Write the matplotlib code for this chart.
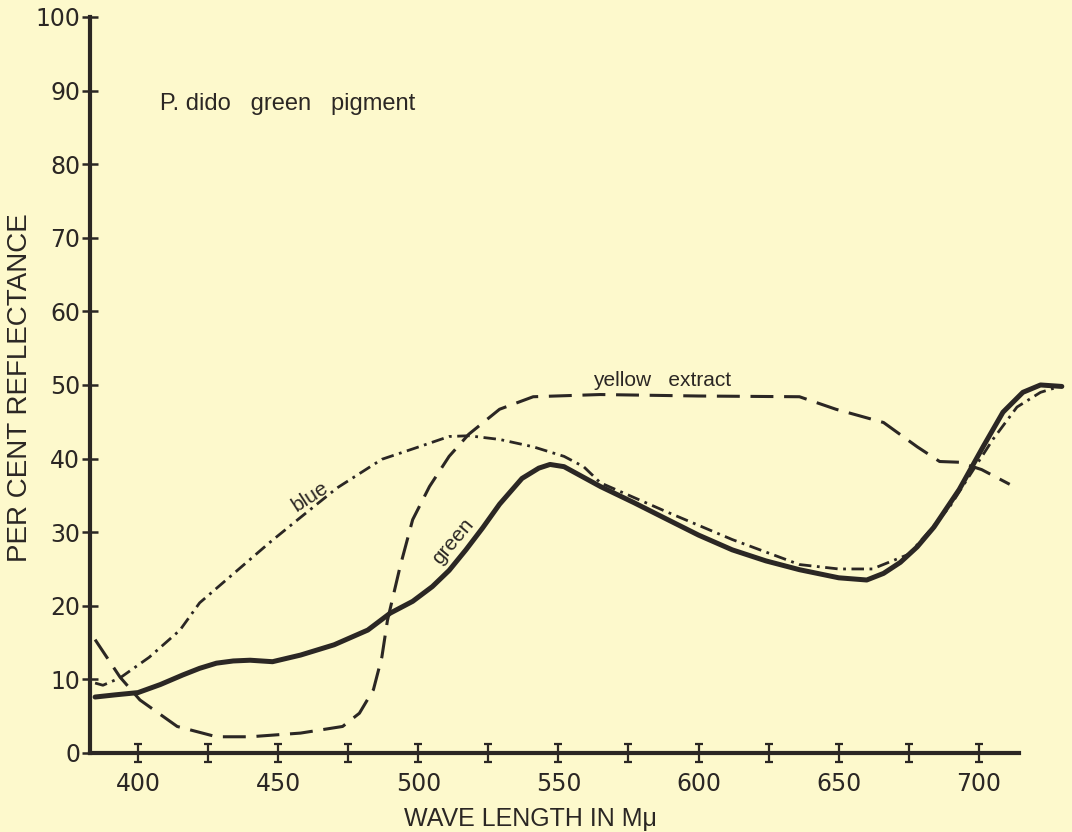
import matplotlib as mpl
mpl.use("Agg")
import matplotlib.pyplot as plt

# wave length (m-mu) and per cent reflectance
green_wl = [384.7, 392, 400, 408, 416, 422, 428, 434, 440, 448, 458, 470, 482, 490, 498, 505,
            511, 517, 523, 529, 537, 543, 547, 552, 565, 577, 589, 600, 612, 624, 636, 650,
            660, 666, 672, 678, 684, 693, 701.5, 708.6, 715.7, 722, 729.6]
green_val = [7.6, 7.9, 8.2, 9.3, 10.6, 11.5, 12.2, 12.5, 12.6, 12.4, 13.3, 14.7, 16.7, 19.0,
             20.6, 22.6, 24.8, 27.6, 30.6, 33.8, 37.3, 38.7, 39.2, 38.9, 36.2, 34.0, 31.7,
             29.6, 27.6, 26.1, 24.9, 23.8, 23.5, 24.4, 25.9, 28.0, 30.7, 35.8, 41.6, 46.3,
             49.0, 50.0, 49.8]

blue_wl = [384.7, 387.5, 393.6, 404, 415, 422, 440, 447, 457, 471, 487, 499.5, 511, 518,
           529, 541, 552, 559, 565, 589, 612, 636, 650, 662, 675, 682, 689.7, 695.7, 705,
           713.6, 722, 728]
blue_val = [9.5, 9.2, 10.2, 13.0, 16.7, 20.4, 26.3, 28.6, 31.7, 36.0, 39.9, 41.5, 43.0, 43.1,
            42.6, 41.6, 40.3, 38.9, 36.7, 32.7, 29.0, 25.6, 25.0, 25.0, 27.0, 30.0, 33.5, 37.1, 42.6,
            47.0, 49.0, 49.7]

yellow_wl = [384.7, 393.6, 400.7, 414, 428, 440, 458, 473, 479, 484, 487, 489, 493.5, 498,
             504, 511, 518, 529, 541, 565, 600, 636, 649, 666, 678, 686, 693, 701, 711]
yellow_val = [15.4, 10.3, 7.2, 3.6, 2.2, 2.2, 2.7, 3.6, 5.4, 8.6, 13.0, 18.0, 25.3, 31.7,
              36.2, 40.3, 43.3, 46.7, 48.4, 48.7, 48.5, 48.4, 46.7, 44.9, 41.6, 39.6, 39.5, 38.5, 36.5]

x_major = [400, 450, 500, 550, 600, 650, 700]
x_minor = [425, 475, 525, 575, 625, 675]
y_ticks = [0, 10, 20, 30, 40, 50, 60, 70, 80, 90, 100]

bg = "#fdf9cc"
ink = "#2b2724"
tick_font = ["Liberation Sans Narrow", "DejaVu Sans"]
text_font = ["Liberation Sans", "DejaVu Sans"]

fig = plt.figure(figsize=(10.72, 8.32), dpi=100, facecolor=bg)
ax = fig.add_axes([0.084, 0.095, 0.9154, 0.8846])
ax.set_facecolor(bg)
ax.set_xlim(382.9, 733)
ax.set_ylim(0, 100)

ax.plot(yellow_wl, yellow_val, color=ink, lw=2.2, ls=(0, (7.5, 3.5)), clip_on=False)
ax.plot(blue_wl, blue_val, color=ink, lw=2.0, ls=(0, (4.5, 2, 1, 2)), clip_on=False)
ax.plot(green_wl, green_val, color=ink, lw=3.6, solid_capstyle="round",
        solid_joinstyle="round", clip_on=False)

#axes look like the hand drawn original
for s in ["top", "right"]:
    ax.spines[s].set_visible(False)
ax.spines["left"].set_linewidth(3)
ax.spines["bottom"].set_linewidth(3)
ax.spines["left"].set_color(ink)
ax.spines["bottom"].set_color(ink)
ax.spines["bottom"].set_bounds(382.9, 714.3)

ax.set_yticks(y_ticks)
ax.set_yticklabels([str(v) for v in y_ticks], family=tick_font, fontsize=17, color=ink)
ax.tick_params(axis="y", direction="inout", length=12, width=1.8, color=ink, pad=1)

ax.set_xticks(x_major)
ax.set_xticklabels([str(v) for v in x_major], family=tick_font, fontsize=17, color=ink)
ax.set_xticks(x_minor, minor=True)
ax.tick_params(axis="x", which="both", length=0, pad=14)

#I shaped ticks on the wave length axis
eb = ax.errorbar(x_major + x_minor, [0] * len(x_major + x_minor), yerr=1.2, fmt="none",
                 ecolor=ink, elinewidth=1.6, capsize=3, capthick=1.6)
for art in eb.get_children():
    art.set_clip_on(False)

ax.set_xlabel("WAVE LENGTH IN M\u03bc", family=text_font, fontsize=18, color=ink)
ax.xaxis.set_label_coords(0.4485, -0.074)
ax.set_ylabel("PER CENT REFLECTANCE", family=text_font, fontsize=20, color=ink)
ax.yaxis.set_label_coords(-0.058, 0.497)

ax.text(407.8, 88.2, "P. dido   green   pigment", family=text_font, fontsize=17,
        color=ink, ha="left", va="center")
ax.text(461.5, 34.8, "blue", family=text_font, fontsize=15, color=ink,
        rotation=33, ha="center", va="center")
ax.text(512.4, 28.8, "green", family=text_font, fontsize=15, color=ink,
        rotation=50, ha="center", va="center")
ax.text(587, 50.6, "yellow   extract", family=text_font, fontsize=15, color=ink,
        ha="center", va="center")

plt.savefig("out.png", dpi=100, facecolor=bg)
